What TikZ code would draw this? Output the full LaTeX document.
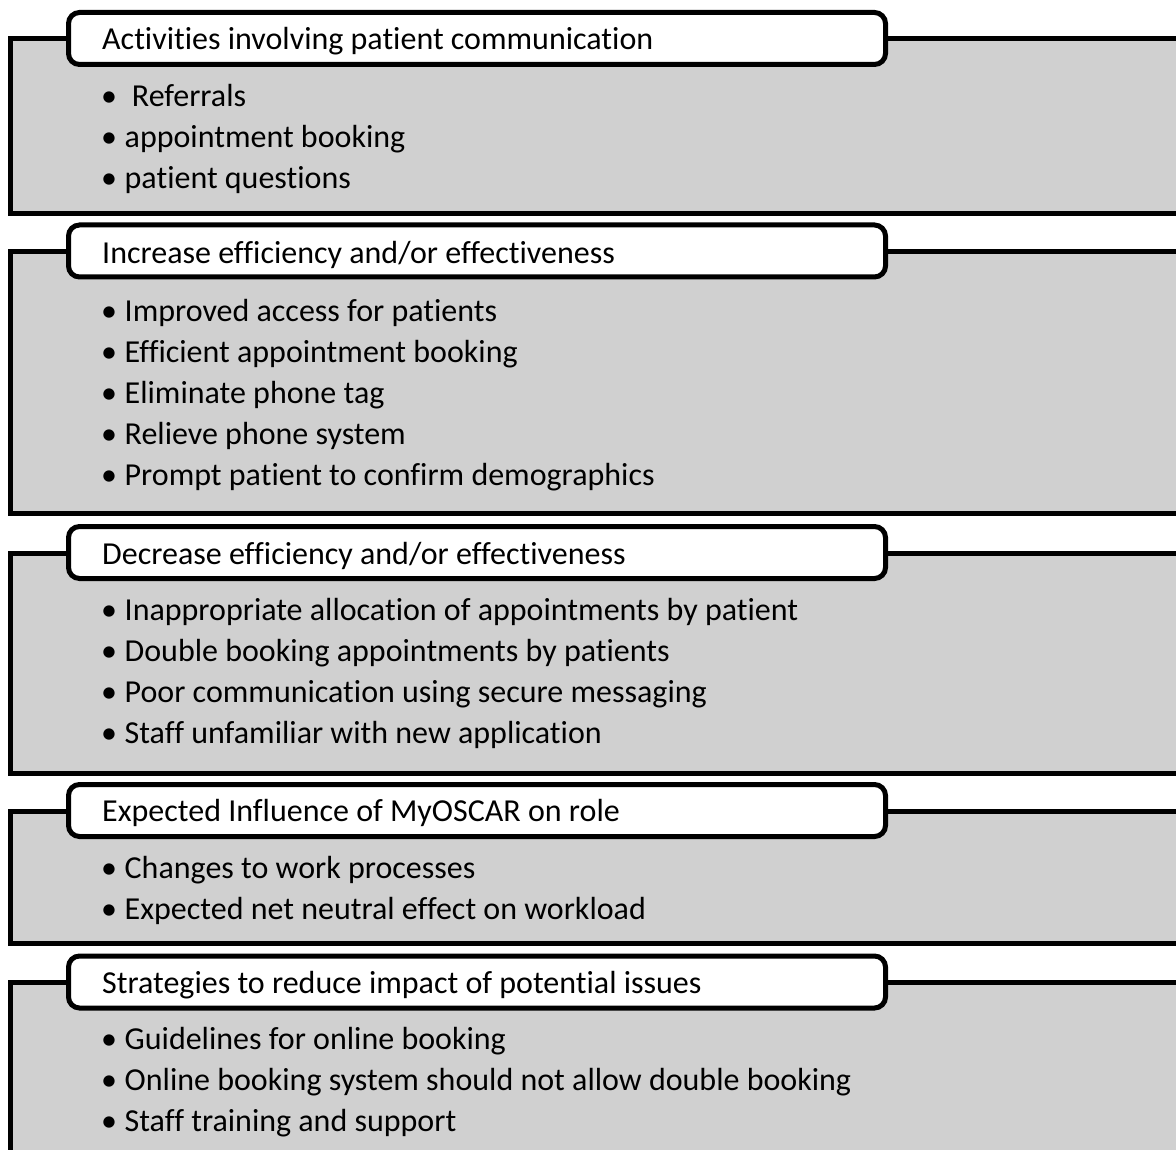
\documentclass[tikz,border=0pt]{standalone}
\usepackage{fontspec}
\setmainfont{Carlito}[Ligatures={NoCommon}]
\definecolor{panelgray}{RGB}{208,208,208}
\tikzset{
  panel/.style={draw=black, fill=panelgray, line width=5pt, outer sep=0pt,
    inner sep=0pt, anchor=north west, minimum width=1167.5pt},
  tabbox/.style={draw=black, fill=white, line width=5pt, rounded corners=11pt,
    outer sep=0pt, inner sep=0pt, minimum width=817pt, minimum height=52pt},
  title/.style={anchor=base west, inner sep=0pt, font=\fontsize{32}{38}\selectfont},
  entry/.style={anchor=base west, inner sep=0pt, font=\fontsize{32}{38}\selectfont},
}
\newcommand{\bul}[1]{\makebox[23.5pt][l]{\textbullet}#1}
\begin{document}
\begin{tikzpicture}[x=1pt, y=-1pt]
\useasboundingbox (0,0) rectangle (1176,1150);

% --- section 1 ---
\node[panel, minimum height=175pt] (p1) at (10.5,38.5) {};
\node[tabbox] (t1) at (477,38.5) {};
\node[title] (h1) at (102,50) {Activities involving patient communication};
\node[entry] (a1) at (101,107) {\bul{\ Referrals}};
\node[entry] (a2) at (101,148) {\bul{appointment booking}};
\node[entry] (a3) at (101,189) {\bul{patient questions}};

% --- section 2 ---
\node[panel, minimum height=261.5pt] (p2) at (10.5,252) {};
\node[tabbox] (t2) at (477,251) {};
\node[title] (h2) at (102,263.5) {Increase efficiency and/or effectiveness};
\node[entry] (b1) at (101,321.5) {\bul{Improved access for patients}};
\node[entry] (b2) at (101,362.5) {\bul{Efficient appointment booking}};
\node[entry] (b3) at (101,403.5) {\bul{Eliminate phone tag}};
\node[entry] (b4) at (101,444.5) {\bul{Relieve phone system}};
\node[entry] (b5) at (101,485) {\bul{Prompt patient to confirm demographics}};

% --- section 3 ---
\node[panel, minimum height=220pt] (p3) at (10.5,553.5) {};
\node[tabbox] (t3) at (477,552.5) {};
\node[title] (h3) at (102,564) {Decrease efficiency and/or effectiveness};
\node[entry] (c1) at (101,620) {\bul{Inappropriate allocation of appointments by patient}};
\node[entry] (c2) at (101,661) {\bul{Double booking appointments by patients}};
\node[entry] (c3) at (101,702) {\bul{Poor communication using secure messaging}};
\node[entry] (c4) at (101,743) {\bul{Staff unfamiliar with new application}};

% --- section 4 ---
\node[panel, minimum height=132pt] (p4) at (10.5,811.5) {};
\node[tabbox] (t4) at (477,810.5) {};
\node[title] (h4) at (102,821.5) {Expected Influence of MyOSCAR on role};
\node[entry] (d1) at (101,878) {\bul{Changes to work processes}};
\node[entry] (d2) at (101,919) {\bul{Expected net neutral effect on workload}};

% --- section 5 ---
\node[panel, minimum height=180pt] (p5) at (10.5,982.5) {};
\node[tabbox] (t5) at (477,982) {};
\node[title] (h5) at (102,993) {Strategies to reduce impact of potential issues};
\node[entry] (e1) at (101,1049) {\bul{Guidelines for online booking}};
\node[entry] (e2) at (101,1090) {\bul{Online booking system should not allow double booking}};
\node[entry] (e3) at (101,1131) {\bul{Staff training and support}};
\end{tikzpicture}
\end{document}
